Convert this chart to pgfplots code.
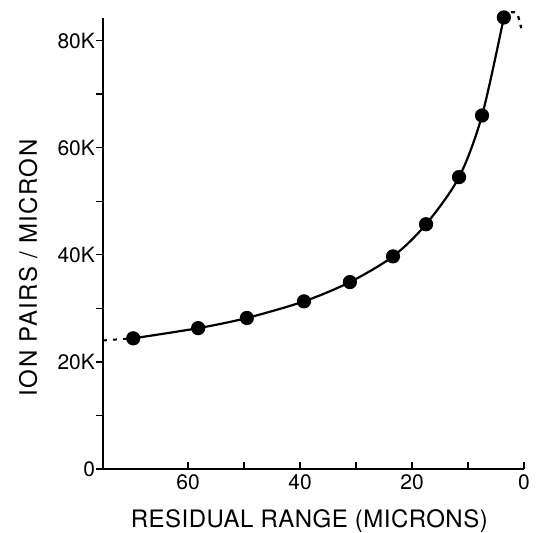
\documentclass[border=0pt]{standalone}
\usepackage{fontspec}
\setmainfont{TeX Gyre Heros}
\usepackage{pgfplots}
\pgfplotsset{compat=1.18}

\begin{document}
\begin{tikzpicture}
\begin{axis}[
    name=main,
    at={(0,0)}, anchor=south west,
    scale only axis,
    width=210.5pt, height=225.5pt,
    x dir=reverse,
    xmin=0, xmax=75.2,
    ymin=0, ymax=84.2,
    axis x line=bottom, axis y line=left,
    axis line style={-, line width=0.9pt},
    xtick={0,20,40,60},
    ytick={0,20,40,60,80},
    yticklabels={0,20K,40K,60K,80K},
    minor x tick num=1, minor y tick num=1,
    tick align=outside,
    major tick length=3.5pt, minor tick length=3.5pt,
    every tick/.style={black, line width=0.7pt},
    xtick style={yshift=3.5pt},
    x tick label style={font=\fontsize{10.5}{12}\selectfont, yshift=4pt},
    y tick label style={font=\fontsize{10.5}{12}\selectfont, xshift=3pt},
    /pgf/number format/assume math mode=true,
    xlabel={\addfontfeatures{LetterSpace=2}RESIDUAL RANGE (MICRONS)},
    ylabel={\addfontfeatures{LetterSpace=6}ION PAIRS / MICRON},
    label style={font=\fontsize{12}{14}\selectfont},
    xlabel style={at={(axis description cs:0.49,-0.115)}, anchor=center},
    ylabel style={at={(axis description cs:-0.178,0.446)}, anchor=center, rotate=0},
    clip=false,
]
% dotted extrapolations
\addplot[black, line width=1pt, dash pattern=on 2pt off 3pt] coordinates {
    (75.2, 24.0) (70.0, 24.4)
};
\addplot[black, line width=1.1pt, dash pattern=on 2pt off 2.5pt, smooth] coordinates {
    (3.6, 84.3) (2.4, 85.3) (1.2, 84.9) (0.5, 82.3)
};
% measured curve
\addplot[black, line width=1.1pt, smooth, mark=*, mark size=3pt] coordinates {
    (69.8, 24.4)
    (58.2, 26.3)
    (49.5, 28.2)
    (39.3, 31.3)
    (31.1, 34.9)
    (23.4, 39.7)
    (17.5, 45.7)
    (11.6, 54.5)
    (7.5, 66.0)
    (3.6, 84.3)
};
\end{axis}
\pgfresetboundingbox
\useasboundingbox (-51.5pt,-31.5pt) rectangle (220.5pt,234.5pt);
\end{tikzpicture}
\end{document}
